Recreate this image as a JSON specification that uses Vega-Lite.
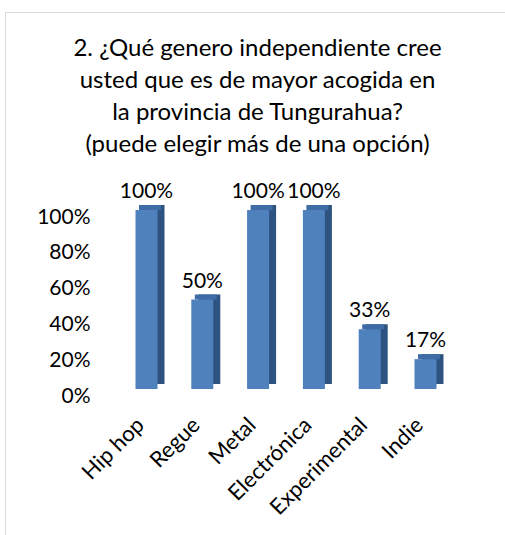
{
  "$schema": "https://vega.github.io/schema/vega-lite/v6.json",
  "width": 505,
  "height": 530,
  "autosize": {"type": "none"},
  "padding": {"left": 5, "top": 12, "right": 0, "bottom": 0},
  "background": "white",
  "title": {
    "text": ["2. ¿Qué genero independiente cree", "usted que es de mayor acogida en", "la provincia de Tungurahua?", "(puede elegir más de una opción)"],
    "anchor": "middle",
    "frame": "group",
    "orient": "top",
    "baseline": "top",
    "offset": 0,
    "dy": 145,
    "font": "Lato",
    "fontSize": 24,
    "fontWeight": "normal",
    "color": "black",
    "lineHeight": 32
  },
  "data": {
    "values": [
      {"genero": "Hip hop", "pct": 1.0},
      {"genero": "Regue", "pct": 0.5},
      {"genero": "Metal", "pct": 1.0},
      {"genero": "Electrónica", "pct": 1.0},
      {"genero": "Experimental", "pct": 0.3333},
      {"genero": "Indie", "pct": 0.1667}
    ]
  },
  "encoding": {
    "x": {
      "field": "genero",
      "type": "nominal",
      "sort": null,
      "scale": {"range": [113.6, 448.4], "paddingInner": 0, "paddingOuter": 0},
      "axis": {
        "title": null,
        "labelAngle": -45,
        "labelFont": "Lato",
        "labelFontSize": 22,
        "labelColor": "black",
        "domain": false,
        "ticks": false,
        "offset": -153,
        "labelPadding": 25,
        "labelOffset": -13,
        "labelLimit": 0
      }
    },
    "y": {
      "field": "pct",
      "type": "quantitative",
      "scale": {"domain": [0, 1], "range": [377, 198]},
      "axis": {
        "title": null,
        "values": [0, 0.2, 0.4, 0.6, 0.8, 1],
        "format": ".0%",
        "domain": false,
        "ticks": false,
        "grid": false,
        "offset": -87,
        "labelPadding": 2,
        "labelOffset": 7,
        "labelFont": "Lato",
        "labelFontSize": 21,
        "labelColor": "black"
      }
    }
  },
  "layer": [
    {"mark": {"type": "bar", "width": 22, "xOffset": 7, "yOffset": -5, "color": "#2F5380"}},
    {"mark": {"type": "tick", "orient": "horizontal", "size": 22, "thickness": 5, "xOffset": 3.5, "yOffset": -2.5, "color": "#3F6CA6", "opacity": 1}},
    {"mark": {"type": "bar", "width": 22, "color": "#4F81BD"}},
    {
      "mark": {"type": "text", "baseline": "middle", "dy": -18, "font": "Lato", "fontSize": 21, "color": "black"},
      "encoding": {"text": {"field": "pct", "type": "quantitative", "format": ".0%"}}
    }
  ],
  "config": {
    "view": {"stroke": "#d9d9d9"},
    "axis": {"grid": false}
  }
}
